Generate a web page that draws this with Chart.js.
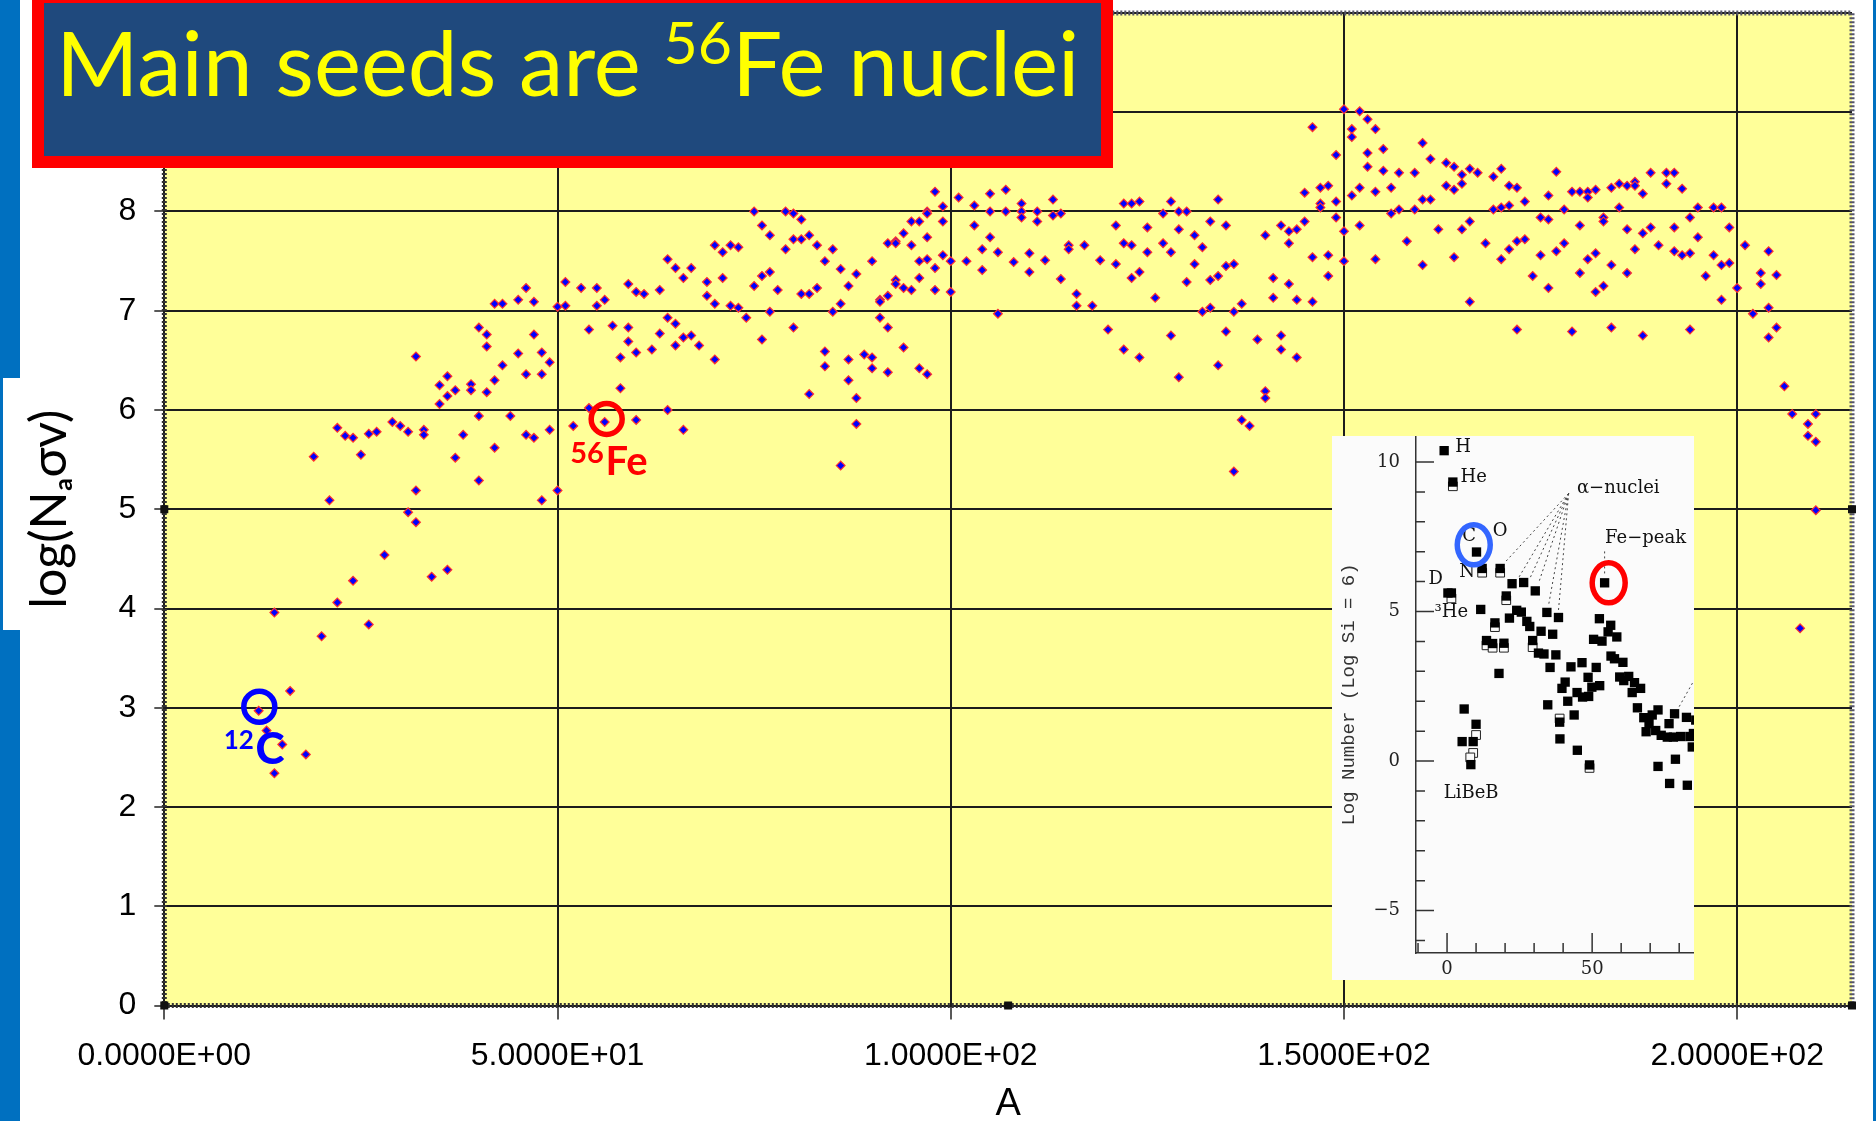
<!DOCTYPE html>
<html>
<head>
<meta charset="utf-8">
<title>Main seeds are 56Fe nuclei</title>
<script src="https://cdn.jsdelivr.net/npm/chart.js@4/dist/chart.umd.js"></script>
<style>
  html, body { margin: 0; padding: 0; background: #fff; }
  #page { position: relative; width: 1876px; height: 1121px; overflow: hidden; background: #fff; }
  #mainChart { position: absolute; left: 0; top: 0; }
  #inset { position: absolute; left: 1332px; top: 436px; width: 362px; height: 544px; background: #fbfbfb; }
  .blue { position: absolute; background: #0070c0; }
  #banner {
    position: absolute; left: 32px; top: 0; width: 1081px; height: 168px; box-sizing: border-box;
    background: #1f497d; border: 12px solid #ff0000; border-top-width: 3px;
    color: #ffff00; font-family: Lato, sans-serif; font-size: 89px; line-height: 1; white-space: nowrap;
  }
  #banner span { position: absolute; left: 12px; top: 14px; }
  #banner sup { font-size: 59px; line-height: 0; vertical-align: 32px; }
</style>
</head>
<body>
<div id="page">
  <canvas id="mainChart" width="1876" height="1121"></canvas>
  <div class="blue" style="left:0;top:0;width:20px;height:378px"></div>
  <div class="blue" style="left:0;top:378px;width:3px;height:252px"></div>
  <div class="blue" style="left:0;top:630px;width:20px;height:491px"></div>
  <div class="blue" style="left:1873px;top:0;width:3px;height:1121px"></div>
  <div id="banner"><span>Main seeds are <sup>56</sup>Fe nuclei</span></div>
  <div id="inset"><canvas id="insetChart" width="362" height="544"></canvas></div>
</div>
<script>
const xTickLabels = ["0.0000E+00", "5.0000E+01", "1.0000E+02", "1.5000E+02", "2.0000E+02"];
const yTickLabels = ["0", "1", "2", "3", "4", "5", "6", "7", "8", "9", "10"];

// rates, split by mass range
const massLight = [12, 13, 14, 14, 15, 16, 18, 19, 20, 21, 22, 22, 23, 24, 24, 25, 26, 26, 27, 28, 29, 30, 31, 31,
  32, 32, 32, 33, 33, 34, 35, 35, 36, 36, 36, 37, 37, 38, 39, 39, 40, 40, 40, 41, 41, 41, 42, 42, 42, 43, 43, 44,
  45, 45, 46, 46, 46, 47, 47, 47, 48, 48, 48, 49, 49, 50, 50, 51, 51, 52, 53, 54, 54, 55, 55, 56, 56, 57, 58, 58,
  59, 59, 59];
const rateLight = [2.97, 2.77, 3.96, 2.34, 2.63, 3.17, 2.53, 5.53, 3.72, 5.09, 5.82, 4.06, 5.74, 5.72, 4.28, 5.55, 5.76, 3.84, 5.78, 4.54, 5.88, 5.84, 5.78, 4.97,
  6.54, 5.19, 4.87, 5.80, 5.75, 4.32, 6.25, 6.06, 6.34, 6.14, 4.39, 6.20, 5.52, 5.75, 6.26, 6.20, 6.83, 5.94, 5.29, 6.76, 6.64, 6.18, 7.07, 6.30, 5.62, 7.07, 6.45, 5.94,
  7.11, 6.57, 7.23, 6.36, 5.75, 7.09, 6.76, 5.72, 6.58, 6.36, 5.09, 6.48, 5.80, 7.04, 5.19, 7.29, 7.05, 5.84, 7.23, 6.81, 6.02, 7.23, 7.05, 7.11, 5.88, 6.85, 6.53, 6.22,
  7.27, 6.83, 6.69];

const massMedium = [60, 60, 60, 61, 62, 63, 63, 64, 64, 64, 65, 65, 65, 66, 66, 66, 67, 67, 68, 69, 69, 70, 70, 70,
  71, 71, 72, 72, 73, 73, 74, 75, 75, 76, 76, 76, 77, 77, 77, 78, 79, 79, 80, 80, 80, 81, 81, 81, 82, 82, 82,
  83, 83, 84, 84, 84, 85, 85, 86, 86, 86, 87, 87, 87, 88, 88, 88, 89, 90, 90, 90, 91, 91, 91, 92, 92, 92, 92,
  93, 93, 93, 93, 94, 94, 94, 95, 95, 95, 96, 96, 96, 96, 97, 97, 97, 97, 97, 98, 98, 98, 99, 99, 99,
  100, 100, 101, 102, 103, 103, 104, 104, 105, 105, 105, 106, 106, 107, 107, 108, 109, 109, 109, 110, 110, 111, 111];
const rateMedium = [7.19, 6.58, 5.90, 7.17, 6.61, 7.21, 6.77, 7.52, 6.93, 6.00, 7.43, 6.87, 6.65, 7.33, 6.73, 5.80, 7.43, 6.75, 6.65, 7.29, 7.15, 7.66, 7.07, 6.51,
  7.59, 7.33, 7.66, 7.05, 7.64, 7.03, 6.93, 8.00, 7.25, 7.86, 7.35, 6.71, 7.76, 7.39, 6.99, 7.21, 8.00, 7.62, 7.98, 7.72, 6.83, 7.92, 7.72, 7.17, 7.76, 7.17, 6.16,
  7.66, 7.23, 7.50, 6.59, 6.44, 7.62, 6.99, 7.42, 7.07, 5.44, 7.25, 6.51, 6.30, 7.37, 6.12, 5.86, 6.56, 7.50, 6.53, 6.42, 7.11, 7.09, 6.93, 7.68, 7.15, 6.83, 6.38,
  7.70, 7.68, 7.31, 7.27, 7.78, 7.23, 6.63, 7.90, 7.66, 7.21, 7.90, 7.50, 7.33, 6.42, 8.00, 7.98, 7.74, 7.52, 6.36, 8.20, 7.43, 7.21, 8.05, 7.90, 7.56,
  7.50, 7.19, 8.14, 7.50, 8.06, 7.86, 7.62, 7.41, 8.18, 8.00, 7.74, 7.59, 6.97, 8.22, 8.00, 7.49, 8.08, 8.00, 7.94, 7.58, 7.39, 8.00, 7.90];

const massHeavy = [112, 113, 113, 114, 114, 115, 115, 116, 116, 117, 118, 119, 120, 121, 121, 122, 122, 122, 123, 123, 123,
  124, 124, 124, 125, 125, 126, 127, 127, 128, 128, 128, 129, 129, 129, 130, 130, 131, 131, 132, 132, 133, 133, 133,
  134, 134, 134, 135, 135, 135, 136, 136, 136, 137, 137, 138, 139, 140, 140, 140, 141, 141, 142, 142, 142, 143, 143, 143,
  144, 144, 144, 145, 145, 146, 146, 146, 147, 147, 147, 148, 148, 148, 149, 149, 149, 150, 150, 150, 151, 151, 151,
  152, 152, 152, 153, 153, 153, 154, 154, 154, 155, 155, 156, 156, 157, 157, 158, 159, 159, 160, 160, 160, 161, 161, 162, 163, 163];
const rateHeavy = [7.51, 8.12, 7.96, 7.98, 7.32, 7.66, 7.62, 7.17, 7.05, 7.66, 7.05, 7.51, 6.81, 7.86, 7.47, 8.08, 7.68, 6.61, 8.08, 7.66, 7.33,
  8.10, 7.39, 6.53, 7.84, 7.59, 7.13, 7.98, 7.68, 8.10, 7.59, 6.75, 8.00, 7.82, 6.33, 8.00, 7.29, 7.76, 7.47, 7.64, 6.99, 7.90, 7.31, 7.03,
  8.12, 7.35, 6.45, 7.86, 7.45, 6.79, 7.47, 6.99, 5.38, 7.07, 5.90, 5.84, 6.71, 7.76, 6.19, 6.12, 7.33, 7.13, 7.86, 6.75, 6.61, 7.80, 7.68, 7.27,
  7.82, 7.11, 6.53, 8.19, 7.90, 8.85, 7.54, 7.09, 8.24, 8.08, 8.04, 8.26, 7.56, 7.35, 8.57, 8.10, 7.94, 9.03, 7.80, 7.50, 8.83, 8.75, 8.16,
  9.01, 8.24, 7.86, 8.93, 8.59, 8.45, 8.83, 8.20, 7.52, 8.63, 8.41, 8.24, 7.98, 8.39, 8.02, 7.70, 8.39, 8.02, 8.69, 8.12, 7.46, 8.53, 8.12, 7.82, 8.49, 8.26];

const massTail = [164, 164, 164, 165, 165, 165, 166, 166, 166, 167, 168, 169, 169, 170, 170, 170, 171, 171, 171, 172, 172, 172,
  173, 173, 174, 175, 175, 176, 176, 176, 177, 177, 178, 178, 179, 179, 180, 180, 180, 181, 181, 181, 182, 182, 182,
  183, 183, 183, 184, 184, 184, 185, 185, 186, 186, 186, 187, 187, 187, 188, 188, 188, 189, 189, 190, 191, 191,
  192, 192, 192, 193, 193, 194, 194, 194, 195, 195, 196, 197, 197, 198, 198, 198, 199, 199, 200, 201, 202, 203, 203,
  204, 204, 204, 205, 205, 206, 207, 208, 209, 209, 210, 210, 210];
const rateTail = [8.45, 8.22, 7.54, 8.37, 8.28, 7.82, 8.43, 7.90, 7.09, 8.39, 7.68, 8.35, 8.02, 8.43, 8.04, 7.52, 8.26, 8.06, 7.62, 8.24, 7.70, 6.81,
  8.10, 7.72, 7.35, 7.94, 7.56, 8.16, 7.92, 7.23, 8.40, 7.60, 8.02, 7.68, 8.20, 6.79, 8.20, 7.86, 7.38, 8.20, 8.14, 7.52, 8.22, 7.58, 7.19,
  7.94, 7.90, 7.25, 8.24, 7.46, 6.83, 8.28, 8.04, 8.26, 7.82, 7.38, 8.30, 8.26, 7.62, 8.18, 7.78, 6.75, 8.39, 7.84, 7.66, 8.39, 8.28,
  8.39, 7.84, 7.60, 8.23, 7.56, 7.94, 7.58, 6.81, 8.04, 7.74, 7.35, 8.04, 7.56, 8.04, 7.46, 7.11, 7.84, 7.48, 7.23, 7.66, 6.97, 7.38, 7.27,
  7.60, 7.03, 6.73, 7.36, 6.83, 6.24, 5.96, 3.80, 5.86, 5.74, 5.96, 5.68, 4.99];

// the circled seeds
const seedMass = [12.08, 56.25];
const seedRate = [3.01, 5.91];
const seedColors = ["#0000ff", "#ff0000"];

// abundance inset
const insetMass = [-1, 2, 10.15, 12.1, 18.3, 0.3, 1.5, 11.6, 20.4, 22.4, 26.4, 30.4, 34.4, 38.4, 21.5, 24, 25.6, 27.5, 28.5, 29.5,
  31.5, 33.4, 32.4, 36.4, 37.5, 35.5, 16.5, 13.6, 15.7, 19.6, 17.9, 5.9, 10, 5.2, 9, 8.2, 34.7, 38.8, 38.9, 40.7, 39.6, 42.7, 46.5,
  41.6, 43.8, 44.9, 44.8, 46.7, 48.8, 48.6, 51.4, 49.9, 52.6, 49.1, 52.5, 54.3, 50.5, 53.4, 56.4, 55.5, 58.5, 56.5, 57.7, 60.6, 59.5,
  62.6, 60.9, 64.6, 63.8, 66.7, 65.6, 67.8, 70.7, 72.7, 69.6, 68.6, 71.9, 73.8, 75.9, 76.5, 78.4, 82.5, 78, 80.5, 83.7, 85.7, 84.9, 84.5,
  72.7, 78.7, 76.7, 82.8];
const insetLog = [10.38, 9.33, 6.99, 6.44, 6.44, 5.62, 5.62, 5.07, 5.52, 5.93, 5.97, 5.69, 4.97, 4.80, 4.78, 5.04, 4.98, 4.67, 4.50, 4.03,
  3.61, 3.58, 4.34, 4.24, 3.55, 3.13, 4.62, 4.03, 3.93, 3.94, 2.93, 1.74, 1.23, 0.65, 0.65, -0.12, 1.88, 1.30, 0.74, 2.64, 2.43, 3.15, 3.29,
  2.0, 1.54, 0.36, 2.29, 2.14, 2.16, 2.80, 3.13, 2.47, 2.52, -0.13, 4.76, 5.96, 4.07, 4.01, 4.54, 4.32, 4.15, 3.51, 3.42, 3.30, 2.81,
  2.83, 2.69, 2.62, 2.29, 2.43, 1.78, 1.45, 1.54, 1.71, 1.25, 0.98, 1.02, 0.86, 0.80, 1.25, 1.58, 1.46, 0.80, 0.82, 0.82, 1.37, 0.92, 0.47,
  -0.18, 0.06, -0.75, -0.81];
const insetOpenMass = [2, 12.1, 18.3, 1.5, 16.5, 13.6, 15.7, 19.6, 20.4, 29.5, 10, 9, 8, 38.8, 49.1];
const insetOpenLog = [9.19, 6.30, 6.30, 5.44, 4.48, 3.87, 3.79, 3.79, 5.38, 3.81, 0.87, 0.27, 0.12, 1.42, -0.23];

const alphaLeaderMass = [20, 24.6, 28.6, 31.5, 35, 38.4];
const alphaLeaderLog = [6.65, 6.12, 6.12, 5.94, 5.22, 5.04];
const insetNames = ["H", "He", "C", "O", "N", "D", "³He", "α−nuclei", "Fe−peak", "LiBeB"];
const insetNameMass = [5.5, 9.2, 7.6, 18.3, 6.9, -3.9, 1.5, 59, 68.4, 8.3];
const insetNameLog = [10.5, 9.49, 7.53, 7.69, 6.3, 6.09, 4.98, 9.13, 7.46, -1.09];

const toPoints = (xs, ys) => xs.map((x, i) => ({ x: x, y: ys[i] }));

const allMass = [...massLight, ...massMedium, ...massHeavy, ...massTail];
const allRate = [...rateLight, ...rateMedium, ...rateHeavy, ...rateTail];

// stops the tick labels from pushing the plot area in
const dropPadding = (scale) => {
  scale.paddingTop = 0;
  scale.paddingBottom = 0;
  scale.paddingLeft = 0;
  scale.paddingRight = 0;
};

// yellow plot area, hatched frame and the little selection handles
const plotFrame = {
  id: "plotFrame",
  beforeDraw(chart) {
    const { ctx, chartArea: a } = chart;
    ctx.fillStyle = "#ffff99";
    ctx.fillRect(a.left, a.top, a.width, a.height);
  },
  afterDatasetsDraw(chart) {
    const { ctx, chartArea: a } = chart;
    ctx.save();
    ctx.lineWidth = 5;
    ctx.setLineDash([2, 2]);
    ctx.strokeStyle = "#556";
    ctx.beginPath();
    ctx.moveTo(a.left, a.top);
    ctx.lineTo(a.right, a.top);
    ctx.lineTo(a.right, a.bottom);
    ctx.stroke();
    ctx.strokeStyle = "#333";
    ctx.beginPath();
    ctx.moveTo(a.left, a.top);
    ctx.lineTo(a.left, a.bottom);
    ctx.lineTo(a.right, a.bottom);
    ctx.stroke();
    ctx.setLineDash([]);
    ctx.fillStyle = "#111";
    const midY = (a.top + a.bottom) / 2;
    [[a.left, midY], [a.left, a.bottom], [(a.left + a.right) / 2, a.bottom], [a.right, a.bottom], [a.right, midY]].forEach(([x, y]) => {
      ctx.fillRect(x - 4, y - 4, 8, 8);
    });
    ctx.restore();
  },
  afterDraw(chart) {
    const { ctx, scales: { x, y } } = chart;
    ctx.save();
    ctx.textBaseline = "alphabetic";
    // 56Fe
    ctx.fillStyle = "#ff0000";
    ctx.textAlign = "left";
    ctx.font = "bold 40px Lato, sans-serif";
    ctx.fillText("Fe", x.getPixelForValue(56.1), y.getPixelForValue(5.35));
    ctx.textAlign = "right";
    ctx.font = "bold 29px Lato, sans-serif";
    ctx.fillText("56", x.getPixelForValue(55.9), y.getPixelForValue(5.47));
    // 12C
    ctx.fillStyle = "#0000ff";
    ctx.textAlign = "left";
    ctx.font = "900 44px Lato, sans-serif";
    ctx.fillText("C", x.getPixelForValue(11.6), y.getPixelForValue(2.43));
    ctx.textAlign = "right";
    ctx.font = "bold 26px Lato, sans-serif";
    ctx.fillText("12", x.getPixelForValue(11.4), y.getPixelForValue(2.58));
    ctx.restore();
  }
};

new Chart(document.getElementById("mainChart"), {
  type: "scatter",
  data: {
    datasets: [
      {
        label: "seeds",
        data: toPoints(seedMass, seedRate),
        pointStyle: "circle",
        pointRadius: 15.5,
        pointBackgroundColor: "rgba(0,0,0,0)",
        pointBorderColor: seedColors,
        pointBorderWidth: 5.5
      },
      {
        label: "rates",
        data: toPoints(allMass, allRate),
        pointStyle: "rectRot",
        pointRadius: 4.4,
        pointBackgroundColor: "#0000ff",
        pointBorderColor: "#ff3030",
        pointBorderWidth: 1.2
      }
    ]
  },
  options: {
    responsive: false,
    animation: false,
    events: [],
    // big seed circles must not push the plot in
    layout: { autoPadding: false, padding: { top: 13, right: 24, left: 0, bottom: 0 } },
    plugins: { legend: { display: false }, tooltip: { enabled: false } },
    scales: {
      x: {
        type: "linear",
        min: 0,
        max: 214.6,
        afterFit: (scale) => { scale.height = 115.5; dropPadding(scale); },
        grid: { color: "#1c1c1c", lineWidth: 2, tickLength: 14, tickWidth: 1.5, tickColor: "#222" },
        border: { display: false },
        ticks: {
          stepSize: 50,
          includeBounds: false,
          maxRotation: 0,
          padding: 17,
          color: "#000",
          font: { family: "'Liberation Sans'", size: 32 },
          callback: (value, index) => xTickLabels[index]
        },
        title: { display: true, text: "A", color: "#000", font: { family: "'Liberation Sans'", size: 38 }, padding: { top: 0, bottom: -6 } }
      },
      y: {
        type: "linear",
        min: 0,
        max: 10,
        afterFit: (scale) => { scale.width = 164.3; dropPadding(scale); },
        grid: { color: "#1c1c1c", lineWidth: 2, tickLength: 10, tickWidth: 1.5, tickColor: "#222" },
        border: { display: false },
        ticks: {
          stepSize: 1,
          padding: 18,
          color: "#000",
          font: { family: "'Liberation Sans'", size: 32 },
          callback: (value, index) => yTickLabels[index]
        },
        title: { display: true, text: "log(Nₐσv)", color: "#000", font: { family: "Lato, 'DejaVu Sans'", size: 50 }, padding: { top: 20, bottom: 0 } }
      }
    }
  },
  plugins: [plotFrame]
});

// inward ticks, name labels and the two ovals of the inset
const insetMarks = {
  id: "insetMarks",
  afterDraw(chart) {
    const { ctx, chartArea: a, scales: { x, y } } = chart;
    ctx.save();
    ctx.strokeStyle = "#333";
    ctx.lineWidth = 1.5;
    ctx.beginPath();
    y.ticks.forEach((t) => {
      const py = y.getPixelForValue(t.value);
      ctx.moveTo(a.left, py);
      ctx.lineTo(a.left + (t.value % 5 === 0 ? 18 : 9), py);
    });
    x.ticks.forEach((t) => {
      const px = x.getPixelForValue(t.value);
      ctx.moveTo(px, a.bottom);
      ctx.lineTo(px, a.bottom - (t.value % 50 === 0 ? 20 : 10));
    });
    ctx.stroke();

    ctx.fillStyle = "#111";
    ctx.font = "18px 'DejaVu Serif'";
    ctx.textAlign = "center";
    ctx.textBaseline = "middle";
    insetNames.forEach((name, i) => {
      ctx.fillText(name, x.getPixelForValue(insetNameMass[i]), y.getPixelForValue(insetNameLog[i]));
    });

    ctx.lineWidth = 5.5;
    ctx.strokeStyle = "#3366ff";
    ctx.beginPath();
    ctx.ellipse(x.getPixelForValue(9.2), y.getPixelForValue(7.23), 16.5, 20, 0, 0, Math.PI * 2);
    ctx.stroke();
    ctx.strokeStyle = "#ff0000";
    ctx.beginPath();
    ctx.ellipse(x.getPixelForValue(55.7), y.getPixelForValue(5.96), 16.5, 20, 0, 0, Math.PI * 2);
    ctx.stroke();
    ctx.restore();
  }
};

const leader = (from, to) => ({
  data: [from, to],
  showLine: true,
  borderColor: "#444",
  borderWidth: 1,
  borderDash: [2, 3],
  pointRadius: 0
});

new Chart(document.getElementById("insetChart"), {
  type: "scatter",
  data: {
    datasets: [
      {
        label: "solar, filled",
        data: toPoints(insetMass, insetLog),
        pointStyle: "rect",
        pointRadius: 6.6,
        pointBackgroundColor: "#000",
        pointBorderColor: "#000",
        pointBorderWidth: 0
      },
      {
        label: "solar, open",
        data: toPoints(insetOpenMass, insetOpenLog),
        pointStyle: "rect",
        pointRadius: 6.2,
        pointBackgroundColor: "#fbfbfb",
        pointBorderColor: "#222",
        pointBorderWidth: 1
      },
      ...alphaLeaderMass.map((m, i) => leader({ x: 41.9, y: 8.95 }, { x: m, y: alphaLeaderLog[i] })),
      leader({ x: 54.3, y: 7.01 }, { x: 54.3, y: 6.18 }),
      leader({ x: 80, y: 1.82 }, { x: 85, y: 2.68 })
    ]
  },
  options: {
    responsive: false,
    animation: false,
    events: [],
    layout: { autoPadding: false, padding: 0 },
    plugins: { legend: { display: false }, tooltip: { enabled: false } },
    scales: {
      x: {
        type: "linear",
        min: -10.7,
        max: 85.1,
        afterFit: (scale) => { scale.height = 27; dropPadding(scale); },
        grid: { drawOnChartArea: false, drawTicks: false },
        border: { color: "#333", width: 1.5 },
        ticks: {
          stepSize: 10,
          includeBounds: false,
          autoSkip: false,
          maxRotation: 0,
          padding: 6,
          color: "#222",
          font: { family: "'DejaVu Serif'", size: 18 },
          callback: (value) => (value % 50 === 0 ? String(value) : "")
        }
      },
      y: {
        type: "linear",
        min: -6.42,
        max: 10.87,
        afterFit: (scale) => { scale.width = 84; dropPadding(scale); },
        grid: { drawOnChartArea: false, drawTicks: false },
        border: { color: "#333", width: 1.5 },
        ticks: {
          stepSize: 1,
          includeBounds: false,
          autoSkip: false,
          padding: 16,
          color: "#222",
          font: { family: "'DejaVu Serif'", size: 18 },
          callback: (value) => (value % 5 === 0 ? String(value).replace("-", "−") : "")
        },
        title: { display: true, text: "Log Number (Log Si = 6)", color: "#333", font: { family: "'Liberation Mono'", size: 19 }, padding: { top: 6, bottom: 0 } }
      }
    }
  },
  plugins: [insetMarks]
});
</script>
</body>
</html>
